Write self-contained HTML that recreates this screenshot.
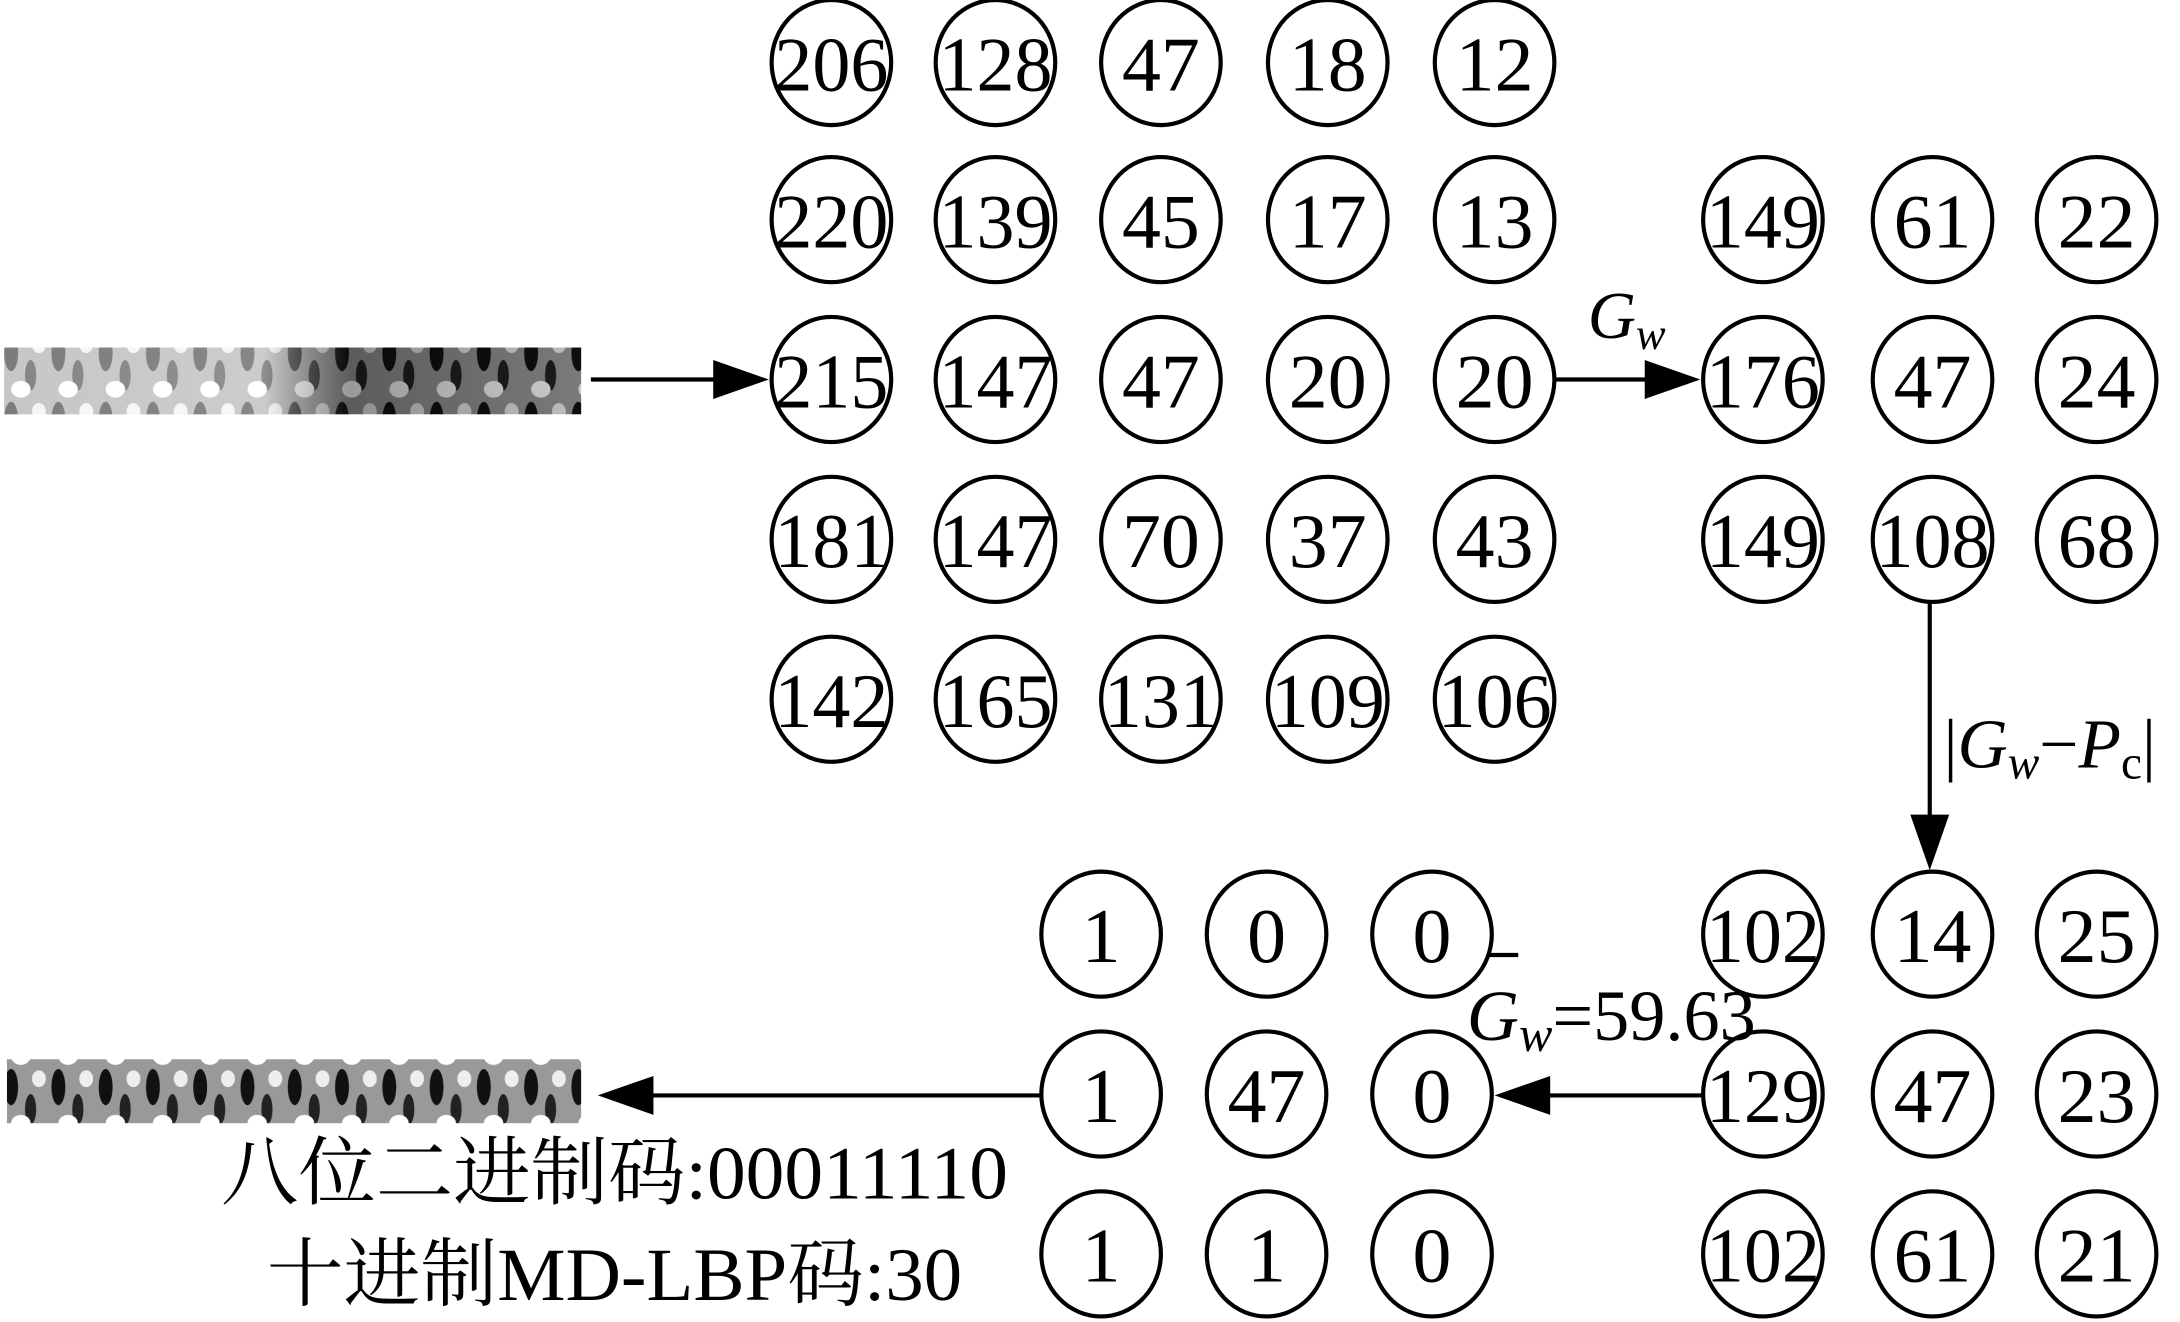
<!DOCTYPE html>
<html><head><meta charset="utf-8"><style>
html,body{margin:0;padding:0;background:#fff;}
svg{display:block;}
text{font-family:"Liberation Serif","Noto Serif CJK SC",serif;fill:#000;}
</style></head><body>
<svg width="2180" height="1322" viewBox="0 0 1568 951" preserveAspectRatio="none" xmlns="http://www.w3.org/2000/svg">
<defs>
<pattern id="tex" width="34" height="48" patternUnits="userSpaceOnUse">
<rect width="34" height="48" fill="#999"/>
<ellipse cx="8" cy="14" rx="5" ry="13" fill="#111"/>
<ellipse cx="22" cy="30" rx="4" ry="11" fill="#222"/>
<ellipse cx="28" cy="8" rx="5" ry="6" fill="#eee"/>
<ellipse cx="15" cy="40" rx="7" ry="6" fill="#fff"/>
</pattern>
<linearGradient id="g1" x1="0" x2="1">
<stop offset="0" stop-color="#fff" stop-opacity="0.45"/>
<stop offset="0.45" stop-color="#fff" stop-opacity="0.5"/>
<stop offset="0.6" stop-color="#000" stop-opacity="0.4"/>
<stop offset="1" stop-color="#000" stop-opacity="0.2"/>
</linearGradient>
</defs>
<rect x="3" y="250" width="415" height="48" fill="url(#tex)"/>
<rect x="3" y="250" width="415" height="48" fill="url(#g1)"/>
<rect x="5" y="762" width="413" height="46" fill="url(#tex)"/>
<g fill="none" stroke="#000" stroke-width="3">
<ellipse cx="598" cy="45" rx="43" ry="45"/><ellipse cx="716" cy="45" rx="43" ry="45"/><ellipse cx="835" cy="45" rx="43" ry="45"/><ellipse cx="955" cy="45" rx="43" ry="45"/><ellipse cx="1075" cy="45" rx="43" ry="45"/>
<ellipse cx="598" cy="158" rx="43" ry="45"/><ellipse cx="716" cy="158" rx="43" ry="45"/><ellipse cx="835" cy="158" rx="43" ry="45"/><ellipse cx="955" cy="158" rx="43" ry="45"/><ellipse cx="1075" cy="158" rx="43" ry="45"/>
<ellipse cx="598" cy="273" rx="43" ry="45"/><ellipse cx="716" cy="273" rx="43" ry="45"/><ellipse cx="835" cy="273" rx="43" ry="45"/><ellipse cx="955" cy="273" rx="43" ry="45"/><ellipse cx="1075" cy="273" rx="43" ry="45"/>
<ellipse cx="598" cy="388" rx="43" ry="45"/><ellipse cx="716" cy="388" rx="43" ry="45"/><ellipse cx="835" cy="388" rx="43" ry="45"/><ellipse cx="955" cy="388" rx="43" ry="45"/><ellipse cx="1075" cy="388" rx="43" ry="45"/>
<ellipse cx="598" cy="503" rx="43" ry="45"/><ellipse cx="716" cy="503" rx="43" ry="45"/><ellipse cx="835" cy="503" rx="43" ry="45"/><ellipse cx="955" cy="503" rx="43" ry="45"/><ellipse cx="1075" cy="503" rx="43" ry="45"/>
<ellipse cx="1268" cy="158" rx="43" ry="45"/><ellipse cx="1390" cy="158" rx="43" ry="45"/><ellipse cx="1508" cy="158" rx="43" ry="45"/>
<ellipse cx="1268" cy="273" rx="43" ry="45"/><ellipse cx="1390" cy="273" rx="43" ry="45"/><ellipse cx="1508" cy="273" rx="43" ry="45"/>
<ellipse cx="1268" cy="388" rx="43" ry="45"/><ellipse cx="1390" cy="388" rx="43" ry="45"/><ellipse cx="1508" cy="388" rx="43" ry="45"/>
<ellipse cx="1268" cy="672" rx="43" ry="45"/><ellipse cx="1390" cy="672" rx="43" ry="45"/><ellipse cx="1508" cy="672" rx="43" ry="45"/>
<ellipse cx="1268" cy="787" rx="43" ry="45"/><ellipse cx="1390" cy="787" rx="43" ry="45"/><ellipse cx="1508" cy="787" rx="43" ry="45"/>
<ellipse cx="1268" cy="902" rx="43" ry="45"/><ellipse cx="1390" cy="902" rx="43" ry="45"/><ellipse cx="1508" cy="902" rx="43" ry="45"/>
<ellipse cx="792" cy="672" rx="43" ry="45"/><ellipse cx="911" cy="672" rx="43" ry="45"/><ellipse cx="1030" cy="672" rx="43" ry="45"/>
<ellipse cx="792" cy="787" rx="43" ry="45"/><ellipse cx="911" cy="787" rx="43" ry="45"/><ellipse cx="1030" cy="787" rx="43" ry="45"/>
<ellipse cx="792" cy="902" rx="43" ry="45"/><ellipse cx="911" cy="902" rx="43" ry="45"/><ellipse cx="1030" cy="902" rx="43" ry="45"/>
<line x1="425" y1="273" x2="515" y2="273"/>
<line x1="1118" y1="273" x2="1186" y2="273"/>
<line x1="1388" y1="433" x2="1388" y2="588"/>
<line x1="1225" y1="788" x2="1112" y2="788"/>
<line x1="749" y1="788" x2="468" y2="788"/>
<line x1="1070" y1="687" x2="1092" y2="687"/>
</g>
<g fill="#000">
<polygon points="513,259 553,273 513,287"/>
<polygon points="1183,259 1223,273 1183,287"/>
<polygon points="1374,586 1388,626 1402,586"/>
<polygon points="1115,774 1075,788 1115,802"/>
<polygon points="470,774 430,788 470,802"/>
</g>
<g font-size="56" text-anchor="middle">
<text x="598" y="65" textLength="82" lengthAdjust="spacingAndGlyphs">206</text><text x="716" y="65" textLength="82" lengthAdjust="spacingAndGlyphs">128</text><text x="835" y="65">47</text><text x="955" y="65">18</text><text x="1075" y="65">12</text>
<text x="598" y="178" textLength="82" lengthAdjust="spacingAndGlyphs">220</text><text x="716" y="178" textLength="82" lengthAdjust="spacingAndGlyphs">139</text><text x="835" y="178">45</text><text x="955" y="178">17</text><text x="1075" y="178">13</text>
<text x="598" y="293" textLength="82" lengthAdjust="spacingAndGlyphs">215</text><text x="716" y="293" textLength="82" lengthAdjust="spacingAndGlyphs">147</text><text x="835" y="293">47</text><text x="955" y="293">20</text><text x="1075" y="293">20</text>
<text x="598" y="408" textLength="82" lengthAdjust="spacingAndGlyphs">181</text><text x="716" y="408" textLength="82" lengthAdjust="spacingAndGlyphs">147</text><text x="835" y="408">70</text><text x="955" y="408">37</text><text x="1075" y="408">43</text>
<text x="598" y="523" textLength="82" lengthAdjust="spacingAndGlyphs">142</text><text x="716" y="523" textLength="82" lengthAdjust="spacingAndGlyphs">165</text><text x="835" y="523" textLength="82" lengthAdjust="spacingAndGlyphs">131</text><text x="955" y="523" textLength="82" lengthAdjust="spacingAndGlyphs">109</text><text x="1075" y="523" textLength="82" lengthAdjust="spacingAndGlyphs">106</text>
<text x="1268" y="178" textLength="82" lengthAdjust="spacingAndGlyphs">149</text><text x="1390" y="178">61</text><text x="1508" y="178">22</text>
<text x="1268" y="293" textLength="82" lengthAdjust="spacingAndGlyphs">176</text><text x="1390" y="293">47</text><text x="1508" y="293">24</text>
<text x="1268" y="408" textLength="82" lengthAdjust="spacingAndGlyphs">149</text><text x="1390" y="408" textLength="82" lengthAdjust="spacingAndGlyphs">108</text><text x="1508" y="408">68</text>
<text x="1268" y="692" textLength="82" lengthAdjust="spacingAndGlyphs">102</text><text x="1390" y="692">14</text><text x="1508" y="692">25</text>
<text x="1268" y="807" textLength="82" lengthAdjust="spacingAndGlyphs">129</text><text x="1390" y="807">47</text><text x="1508" y="807">23</text>
<text x="1268" y="922" textLength="82" lengthAdjust="spacingAndGlyphs">102</text><text x="1390" y="922">61</text><text x="1508" y="922">21</text>
<text x="792" y="692">1</text><text x="911" y="692">0</text><text x="1030" y="692">0</text>
<text x="792" y="807">1</text><text x="911" y="807">47</text><text x="1030" y="807">0</text>
<text x="792" y="922">1</text><text x="911" y="922">1</text><text x="1030" y="922">0</text>
</g>
<text x="1142" y="243" font-size="48" font-style="italic">G<tspan font-size="32" dy="8">w</tspan></text>
<text x="1398" y="552" font-size="50">|<tspan font-style="italic">G</tspan><tspan font-style="italic" font-size="34" dy="8">w</tspan><tspan dy="-8">−</tspan><tspan font-style="italic">P</tspan><tspan font-size="34" dy="8">c</tspan><tspan dy="-8">|</tspan></text>
<text x="1055" y="748" font-size="52"><tspan font-style="italic">G</tspan><tspan font-style="italic" font-size="36" dy="8">w</tspan><tspan dy="-8">=59.63</tspan></text>
<text x="442" y="862" font-size="54" text-anchor="middle" textLength="566" lengthAdjust="spacingAndGlyphs">八位二进制码:00011110</text>
<text x="442" y="935" font-size="54" text-anchor="middle" textLength="500" lengthAdjust="spacingAndGlyphs">十进制MD-LBP码:30</text>
</svg>
</body></html>
